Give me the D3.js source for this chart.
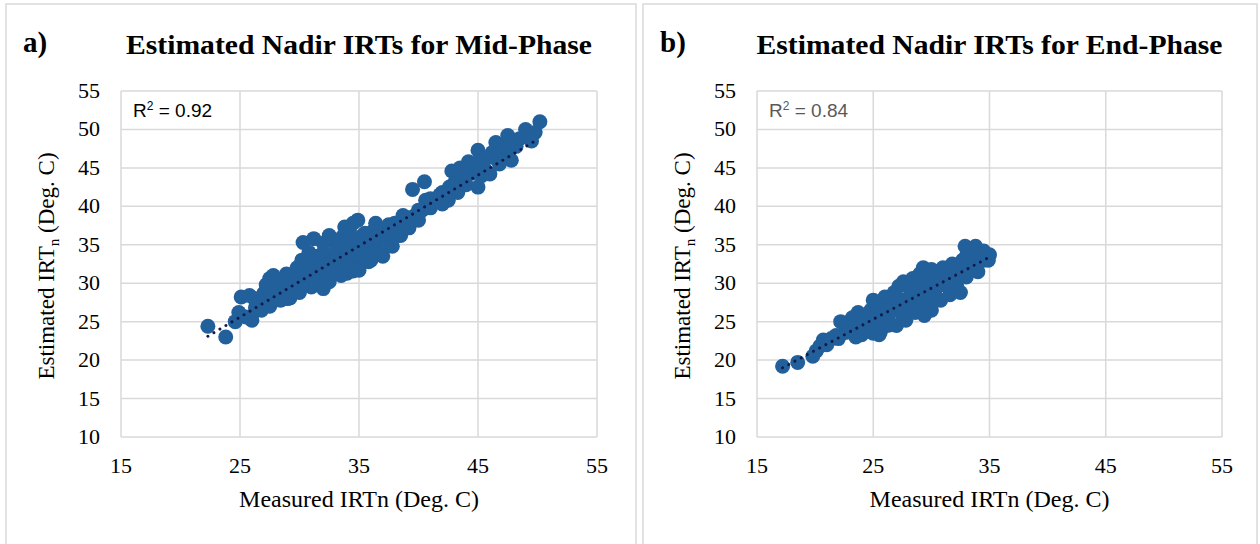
<!DOCTYPE html>
<html>
<head>
<meta charset="utf-8">
<script src="https://cdn.jsdelivr.net/npm/d3@7"></script>
<style>
  body { margin: 0; background: #fff; }
  svg { display: block; }
</style>
</head>
<body>
<svg id="chart" width="1260" height="544"></svg>
<script>
// ticks shared by both panels
const xTicks = [15, 25, 35, 45, 55];
const yTicks = [10, 15, 20, 25, 30, 35, 40, 45, 50, 55];

// mid-phase: [measured, estimated]
const midPoints = [
  [22.3, 24.4], [23.8, 23.0], [24.6, 25.0], [24.9, 26.2], [25.1, 28.2], [25.8, 28.4],
  [25.5, 25.6], [26.0, 25.2], [26.3, 26.8], [26.6, 27.6], [26.2, 28.0], [27.0, 28.7],
  [27.2, 29.8], [27.5, 30.6], [27.8, 31.0], [27.3, 27.3], [27.8, 28.2], [28.2, 29.5],
  [28.4, 27.8], [28.6, 30.2], [28.9, 31.2], [29.0, 28.0], [29.3, 29.0], [29.5, 30.5],
  [29.8, 32.0], [29.9, 29.2], [30.2, 33.0], [30.3, 35.3], [30.5, 30.3], [30.8, 31.6],
  [31.0, 29.5], [31.2, 35.8], [31.3, 32.4], [31.5, 33.5], [31.7, 30.4], [32.0, 29.3],
  [32.0, 34.0], [32.3, 31.4], [32.5, 36.2], [32.6, 33.0], [32.8, 35.5], [33.0, 31.5],
  [33.2, 32.8], [33.4, 34.6], [33.6, 36.0], [33.8, 37.3], [34.0, 31.3], [34.1, 33.3],
  [34.3, 35.4], [34.5, 37.8], [34.7, 32.2], [34.9, 38.2], [35.0, 31.7], [35.1, 34.0],
  [35.3, 36.2], [35.5, 33.2], [35.7, 35.0], [36.0, 33.0], [36.2, 36.8], [36.4, 37.8],
  [36.6, 34.2], [36.8, 35.8], [37.0, 33.5], [37.2, 37.0], [37.5, 37.6], [37.6, 35.2],
  [38.0, 36.0], [38.3, 37.0], [38.5, 36.2], [38.7, 38.8], [39.0, 37.8], [39.5, 42.2],
  [39.7, 38.8], [40.0, 38.2], [40.3, 39.5], [40.5, 43.2], [40.6, 40.8], [41.0, 39.8],
  [41.5, 40.6], [41.8, 41.5], [42.0, 40.3], [42.5, 40.8], [42.6, 42.5], [42.8, 44.6],
  [43.0, 43.0], [43.3, 41.8], [43.5, 45.0], [43.8, 43.6], [44.0, 42.8], [44.2, 45.8],
  [44.5, 44.3], [44.8, 45.6], [45.0, 42.5], [45.0, 47.3], [45.3, 44.0], [45.6, 46.2],
  [46.0, 44.2], [46.2, 47.0], [46.5, 48.3], [46.8, 45.5], [47.0, 46.6], [47.3, 47.6],
  [47.5, 49.2], [47.8, 46.0], [48.2, 47.8], [49.0, 50.0], [49.3, 49.0], [49.8, 49.6],
  [50.2, 51.0], [28.5, 27.9], [29.2, 28.1], [30.0, 28.8], [31.0, 30.0], [32.5, 30.2],
  [33.5, 31.0], [34.5, 31.6], [35.8, 32.8], [36.8, 33.8], [37.8, 34.8], [39.2, 37.2],
  [26.8, 26.5], [27.5, 27.0], [28.0, 29.0], [28.8, 29.0], [29.5, 29.8], [30.0, 31.0],
  [30.5, 32.2], [31.0, 31.0], [31.8, 32.0], [32.2, 32.5], [32.8, 31.8], [33.0, 34.0],
  [33.5, 33.0], [34.0, 34.5], [34.5, 33.8], [35.0, 35.5], [35.5, 36.5], [36.0, 35.0],
  [36.5, 36.0], [37.0, 35.8], [37.5, 36.5], [38.0, 37.8], [39.0, 38.5], [40.0, 39.5],
  [41.0, 41.0], [42.0, 41.8], [43.0, 42.5], [44.0, 44.0], [45.5, 45.0], [46.5, 46.2],
  [47.5, 47.5], [48.5, 48.8], [49.5, 48.5], [30.8, 34.0], [32.0, 35.2], [33.2, 35.6],
  [34.2, 36.8], [29.0, 30.0], [30.2, 29.8], [34.0, 32.3], [36.2, 34.0]
];

// end-phase: [measured, estimated]
const endPoints = [
  [17.2, 19.2], [18.5, 19.7], [19.8, 20.5], [20.1, 21.2], [20.4, 21.8], [20.7, 22.6],
  [21.0, 22.0], [21.4, 22.8], [22.0, 22.8], [22.2, 25.0], [22.6, 23.6], [23.0, 24.3],
  [23.2, 25.5], [23.5, 23.0], [23.7, 26.2], [24.0, 24.6], [24.2, 25.8], [24.5, 24.0],
  [24.8, 26.5], [25.0, 23.5], [25.0, 27.8], [25.2, 25.0], [25.4, 26.0], [25.6, 23.6],
  [25.8, 27.0], [26.0, 28.2], [26.2, 24.5], [26.3, 25.8], [26.5, 27.3], [26.8, 28.8],
  [27.0, 24.5], [27.0, 26.5], [27.2, 29.6], [27.4, 27.8], [27.6, 30.2], [27.8, 25.2],
  [28.0, 27.2], [28.2, 28.6], [28.4, 30.6], [28.6, 26.2], [28.8, 29.5], [29.0, 31.2],
  [29.2, 27.5], [29.3, 32.0], [29.4, 25.8], [29.6, 28.8], [29.8, 30.3], [30.0, 26.5],
  [30.0, 31.8], [30.3, 29.0], [30.5, 30.8], [30.8, 27.8], [31.0, 32.0], [31.2, 29.8],
  [31.4, 31.2], [31.6, 28.5], [31.8, 32.5], [32.0, 30.5], [32.2, 29.5], [32.4, 31.5],
  [32.5, 28.8], [32.7, 33.0], [32.9, 34.8], [33.0, 30.8], [33.3, 32.2], [33.5, 34.5],
  [33.8, 34.8], [34.0, 31.5], [34.2, 33.0], [34.5, 34.2], [34.7, 33.5], [35.0, 33.7],
  [34.9, 33.0], [21.8, 23.2], [22.8, 24.8], [23.8, 25.0], [24.5, 25.5], [25.5, 24.5],
  [26.0, 26.5], [26.8, 27.0], [27.5, 26.0], [28.0, 28.0], [28.5, 29.5], [29.0, 28.0],
  [29.5, 29.5], [30.0, 28.0], [30.5, 29.5], [31.0, 30.5], [31.5, 30.0], [32.0, 31.8],
  [32.5, 32.5], [33.0, 33.5], [33.5, 32.8], [34.0, 33.8], [34.5, 33.0], [33.2, 31.5],
  [25.5, 23.3], [24.0, 23.3], [26.5, 24.6]
];

// dotted trendline end points
const midTrend = [[22.3, 23.1], [49.8, 48.5]];
const endTrend = [[17.2, 19.0], [35.0, 33.4]];

const panels = [
  { tag: "a)", title: "Estimated Nadir IRTs for Mid-Phase", r2: "0.92", r2Color: "#000",
    points: midPoints, trend: midTrend,
    box: [6, 4, 630], plot: [121, 597, 91, 437] },
  { tag: "b)", title: "Estimated Nadir IRTs for End-Phase", r2: "0.84", r2Color: "#595959",
    points: endPoints, trend: endTrend,
    box: [643, 4, 614], plot: [757, 1222, 91, 437] }
];

const svg = d3.select("#chart");
const serif = "'Liberation Serif', 'Times New Roman', serif";
const sans = "'Liberation Sans', Arial, sans-serif";
const grid = "#d9d9d9";
const dotColor = "#22609b";

panels.forEach(p => {
  const g = svg.append("g");
  const [bx, by, bw] = p.box;
  const [x0, x1, y0, y1] = p.plot;

  // panel frame
  g.append("rect")
    .attr("x", bx).attr("y", by)
    .attr("width", bw).attr("height", 600)
    .attr("fill", "none").attr("stroke", grid).attr("stroke-width", 1.5);

  const x = d3.scaleLinear().domain([15, 55]).range([x0, x1]);
  const y = d3.scaleLinear().domain([10, 55]).range([y1, y0]);

  // gridlines
  g.selectAll(".vg").data(xTicks).join("line")
    .attr("x1", d => x(d)).attr("x2", d => x(d))
    .attr("y1", y0).attr("y2", y1)
    .attr("stroke", grid).attr("stroke-width", 1.5);
  g.selectAll(".hg").data(yTicks).join("line")
    .attr("x1", x0).attr("x2", x1)
    .attr("y1", d => y(d)).attr("y2", d => y(d))
    .attr("stroke", grid).attr("stroke-width", 1.5);

  // tick labels
  g.selectAll(".xt").data(xTicks).join("text")
    .attr("x", d => x(d)).attr("y", y1 + 36)
    .attr("text-anchor", "middle")
    .style("font-family", serif).style("font-size", "22px").attr("fill", "#000")
    .text(d => d);
  g.selectAll(".yt").data(yTicks).join("text")
    .attr("x", x0 - 21).attr("y", d => y(d) + 7)
    .attr("text-anchor", "end")
    .style("font-family", serif).style("font-size", "22px").attr("fill", "#000")
    .text(d => d);

  // titles
  g.append("text")
    .attr("x", bx + 17).attr("y", 52)
    .style("font-family", serif).style("font-size", "29px").style("font-weight", "bold")
    .text(p.tag);
  g.append("text")
    .attr("x", (x0 + x1) / 2).attr("y", 54)
    .attr("text-anchor", "middle")
    .attr("textLength", 466).attr("lengthAdjust", "spacingAndGlyphs")
    .style("font-family", serif).style("font-size", "27px").style("font-weight", "bold")
    .text(p.title);

  g.append("text")
    .attr("x", (x0 + x1) / 2).attr("y", 507)
    .attr("text-anchor", "middle")
    .style("font-family", serif).style("font-size", "24px")
    .text("Measured IRTn (Deg. C)");

  const yt = g.append("text")
    .attr("transform", `translate(${x0 - 67},${(y0 + y1) / 2 + 2}) rotate(-90)`)
    .attr("text-anchor", "middle")
    .style("font-family", serif).style("font-size", "23px");
  yt.append("tspan").text("Estimated IRT");
  yt.append("tspan").attr("dy", 5).style("font-size", "15px").text("n");
  yt.append("tspan").attr("dy", -5).text(" (Deg. C)");

  // markers
  g.selectAll(".pt").data(p.points).join("circle")
    .attr("cx", d => x(d[0])).attr("cy", d => y(d[1]))
    .attr("r", 7.5).attr("fill", dotColor);

  // trendline
  g.append("path")
    .attr("d", d3.line().x(d => x(d[0])).y(d => y(d[1]))(p.trend))
    .attr("fill", "none").attr("stroke", "#111a4a")
    .attr("stroke-width", 3).attr("stroke-linecap", "round")
    .attr("stroke-dasharray", "0.01 7");

  // R squared
  const rt = g.append("text")
    .attr("x", x0 + 12).attr("y", y0 + 26)
    .style("font-family", sans).style("font-size", "19px").attr("fill", p.r2Color);
  rt.append("tspan").text("R");
  rt.append("tspan").attr("dy", -7).style("font-size", "12px").text("2");
  rt.append("tspan").attr("dy", 7).text(" = " + p.r2);
});
</script>
</body>
</html>
